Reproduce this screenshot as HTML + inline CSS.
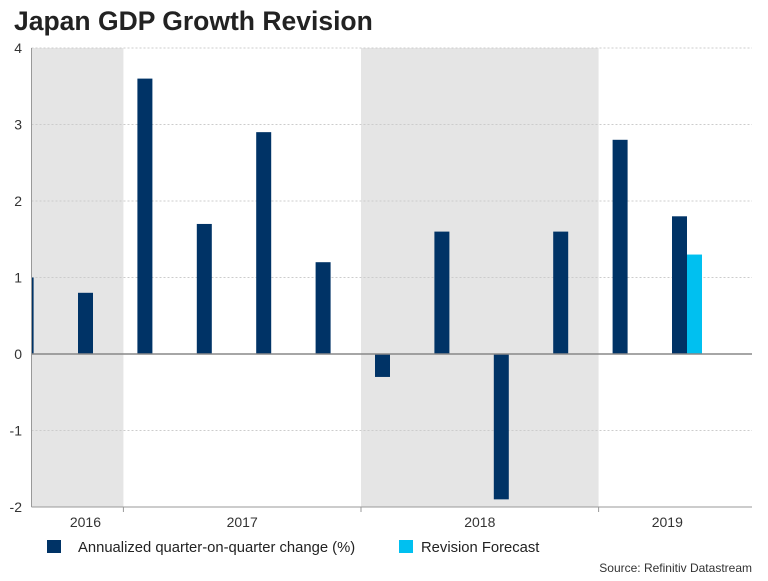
<!DOCTYPE html>
<html><head><meta charset="utf-8"><style>
body{margin:0;width:768px;height:576px;background:#fff;font-family:"Liberation Sans",sans-serif;overflow:hidden}
</style></head><body>
<svg width="768" height="576">
<text x="14" y="30" font-size="26.5" font-weight="bold" fill="#222">Japan GDP Growth Revision</text>
<g id="bg"></g><g id="grid"></g><g id="bars"></g><g id="axes"></g>
<rect x="47" y="540" width="14" height="13" fill="#003366"/>
<text x="78" y="552" font-size="14.8" fill="#222">Annualized quarter-on-quarter change (%)</text>
<rect x="399" y="540" width="14" height="13" fill="#00c0f0"/>
<text x="421" y="552" font-size="14.8" fill="#222">Revision Forecast</text>
<text x="752" y="572" font-size="12" fill="#333" text-anchor="end">Source: Refinitiv Datastream</text>
</svg>
<script>
const quarters=["2015Q4","2016Q1","2016Q2","2016Q3","2016Q4","2017Q1","2017Q2","2017Q3","2017Q4","2018Q1","2018Q2","2018Q3","2018Q4"];
const gdpValues=[1.0,0.8,3.6,1.7,2.9,1.2,-0.3,1.6,-1.9,1.6,2.8,1.8];
const revisionValues=[null,null,null,null,null,null,null,null,null,null,null,1.3];
const yTicks=[4,3,2,1,0,-1,-2];
const years=["2016","2017","2018","2019"];
const yearStart=[-1,1,5,9];
const yearEnd=[1,5,9,12.1];
const labelShift=[8,0,0,-8];
const NS="http://www.w3.org/2000/svg";
const L=31.5,R=752;
const y=v=>354-v*76.5;
const x=i=>85.5+59.4*i;
function mk(p,t,a){const e=document.createElementNS(NS,t);for(const k in a)e.setAttribute(k,a[k]);document.getElementById(p).appendChild(e);return e;}
years.forEach((yr,k)=>{
 const x0=Math.max(L,x(yearStart[k])-21.5), x1=Math.min(R,x(yearEnd[k])-21.5);
 if(k%2===0){const r=mk('bg','rect',{x:x0,y:y(4),width:x1-x0,height:y(-2)-y(4),fill:'#e5e5e5'});
 
 }
 const t=mk('axes','text',{x:(x0+x1)/2+labelShift[k],y:527,'font-size':14,fill:'#333','text-anchor':'middle'});t.textContent=yr;
 
 
 if(k>0){const tk=mk('axes','line',{x1:x0,x2:x0,y1:y(-2),y2:y(-2)+5,stroke:'#999'});
 
 }
});
yTicks.forEach(v=>{
 if(v!==0&&v!==-2){const g=mk('grid','line',{x1:L,x2:R,y1:y(v),y2:y(v),stroke:'#ccc','stroke-dasharray':'2,2'});
 
 }
 const t=mk('axes','text',{x:22,y:y(v)+5,'font-size':14,fill:'#333','text-anchor':'end'});t.textContent=v;
 
 
});
const clip=mk('bars','clipPath',{id:'pc'});mk('pc','rect',{x:L,y:0,width:R-L,height:576});
gdpValues.forEach((v,i)=>{
 const b=mk('bars','rect',{x:x(i-1)-7.5,y:Math.min(y(v),y(0)),width:15,height:Math.abs(y(v)-y(0)),fill:'#003366','clip-path':'url(#pc)'});
 
 
});
revisionValues.forEach((v,i)=>{
 if(v===null)return;
 const b=mk('bars','rect',{x:x(i-1)+7.5,y:Math.min(y(v),y(0)),width:15,height:Math.abs(y(v)-y(0)),fill:'#00c0f0'});
 
 
});
const z=mk('axes','line',{x1:L,x2:R,y1:y(0),y2:y(0),stroke:'#888','stroke-width':1.5});


const ya=mk('axes','line',{x1:L,x2:L,y1:y(4),y2:y(-2),stroke:'#999'});


const xa=mk('axes','line',{x1:L,x2:R,y1:y(-2),y2:y(-2),stroke:'#999'});


</script>
</body></html>
